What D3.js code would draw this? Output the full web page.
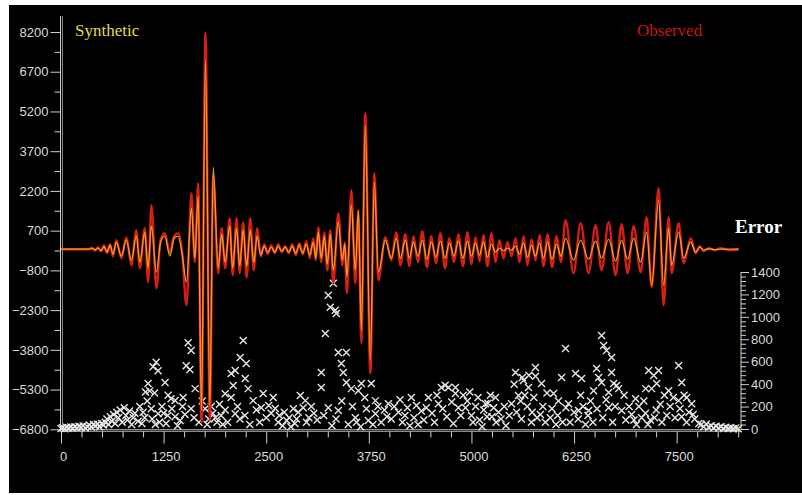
<!DOCTYPE html>
<html>
<head>
<meta charset="utf-8">
<script src="https://cdn.jsdelivr.net/npm/d3@7"></script>
<style>
  body { margin: 0; background: #fff; }
  svg { display: block; }
</style>
</head>
<body>
<svg id="chart" width="802" height="495"></svg>
<script>
// turning points of the traces (time samples)
const times = [0,329,378,415,451,488,524,561,598,634,
  674,735,796,857,918,960,1021,1061,1101,1162,
  1213,1265,1326,1378,1427,1476,1528,1589,1630,1671,
  1711,1760,1813,1854,1915,1957,2000,2055,2091,2138,
  2177,2219,2262,2305,2348,2390,2433,2476,2518,2561,
  2604,2646,2689,2732,2774,2817,2860,2902,2945,2988,
  3030,3073,3104,3134,3171,3207,3244,3280,3317,3378,
  3427,3457,3482,3537,3585,3622,3659,3707,3768,3817,
  3866,3951,4024,4085,4134,4195,4244,4293,4348,4402,
  4457,4512,4567,4622,4677,4732,4787,4841,4896,4951,
  5000,5049,5098,5146,5195,5244,5293,5341,5390,5439,
  5488,5537,5585,5634,5683,5732,5780,5829,5878,5927,
  5982,6037,6091,6146,6244,6329,6427,6512,6585,6671,
  6756,6829,6902,6976,7061,7134,7195,7280,7341,7402,
  7439,7524,7585,7671,7732,7781,7829,7890,7963,8037,
  8134,8256];

const observed = [0,0,57,-57,76,-76,151,-151,189,-265,
  340,-340,454,-605,718,-718,794,-1247,1663,-1474,
  340,605,-151,491,605,-113,-2117,2117,-491,2495,
  -6539,8165,-6464,2797,-907,794,-718,1172,-983,1172,
  -907,1021,-1058,1172,-794,794,-265,189,-189,151,
  -151,189,-113,113,-151,189,-227,227,-189,302,
  -340,416,-416,832,-491,643,-794,718,-1285,1361,
  -605,265,-1663,2230,-1285,1474,-3553,5141,-4687,2873,
  -1172,454,-416,643,-605,567,-643,491,-491,680,
  -680,491,-529,605,-718,416,-491,567,-643,643,
  -567,454,-454,529,-643,605,-491,340,-340,265,
  -265,416,-491,491,-605,378,-416,529,-643,567,
  -680,491,-491,1096,-907,983,-907,907,-794,1021,
  -983,945,-907,869,-869,1210,-1436,2306,-2117,1210,
  -907,983,-529,416,-151,113,-76,38,-38,38,
  -38,0];

const synthetic = [0,0,19,-19,38,-57,95,-95,151,-189,
  265,-265,340,-416,491,-491,643,-718,869,-869,
  265,491,-265,416,491,-189,-1247,1550,-340,2003,
  -6086,7144,-5897,3100,-718,567,-491,869,-718,794,
  -643,718,-643,718,-491,491,-227,113,-113,76,
  -113,113,-76,76,-113,113,-151,151,-151,189,
  -227,265,-340,643,-340,491,-567,567,-794,1021,
  -416,189,-1021,1663,-794,1474,-3062,4687,-4196,2533,
  -869,340,-340,416,-340,340,-340,265,-265,340,
  -378,265,-302,302,-340,227,-265,302,-340,302,
  -265,227,-227,265,-302,189,-113,38,-57,38,
  -38,113,-189,227,-302,151,-265,227,-340,265,
  -378,189,-265,416,-416,340,-378,302,-340,378,
  -454,340,-378,416,-491,643,-1361,1852,-1361,794,
  -605,643,-340,265,-113,76,-38,19,-19,0,
  0,0];

// [time, error]
const errorPoints = [
  [0,5],[20,12],[45,3],[70,15],[95,8],[120,18],[145,6],[170,20],[195,10],[220,25],
  [245,14],[270,30],[295,9],[320,22],[345,35],[370,18],[395,40],[420,28],[445,45],[470,20],
  [495,50],[520,35],[540,60],[560,90],[580,40],[600,110],[620,70],[640,130],[660,50],[680,150],
  [700,100],[720,170],[745,60],[770,190],[790,120],[810,80],[835,160],[860,40],[880,100],[900,140],
  [940,70],[985,50],[1020,100],[1030,330],[1080,340],[1140,320],[1061,405],[1159,595],[1183,520],[1122,555],
  [1268,415],[1305,300],[1340,270],[1390,255],[1488,280],[1549,770],[1585,700],[1525,565],[1570,530],[1634,360],
  [1390,110],[1450,75],[1510,130],[1183,135],[1250,140],[1300,120],[1585,180],[1756,180],[1800,90],[1850,140],
  [1900,60],[1950,120],[2000,170],[2000,315],[1100,180],[1200,60],[1150,40],
  [960,200],[1000,150],[1050,250],[1110,90],[1230,200],[1280,50],[1350,180],[1420,30],[1480,200],[1620,100],
  [1680,60],[1720,250],[1780,40],[1830,200],[1880,100],[1930,220],[1970,40],
  [2220,789],[2183,637],[2256,584],[2122,521],[2073,494],[2244,450],[2098,387],[2280,360],[2073,280],[2341,253],
  [2463,316],[2585,280],[2610,182],[2439,190],[2500,100],[2560,140],[2122,137],[2180,90],[2240,120],[2646,60],
  [2700,30],[2750,75],[2800,20],[2850,50],[2915,298],[2976,253],[2890,150],[2950,190],[3020,100],[3080,140],
  [3171,503],[3171,370],[3220,852],[3256,1192],[3317,1300],[3280,1085],[3341,1058],[3354,1031],[3378,682],[3476,682],
  [3415,584],[3439,503],[3476,414],[3537,360],[3659,405],[3780,405],[3622,342],[3700,280],[3830,253],[3256,190],
  [3378,164],[3585,100],[3744,75],[3830,137],[3900,60],[3970,110],[4024,90],[3988,226],[3300,30],[3500,40],[3650,20],
  [2030,60],[2150,200],[2300,40],[2380,170],[2420,60],[2530,210],[2660,120],[2720,150],[2780,100],[2830,180],
  [2870,90],[2990,60],[3050,200],[3120,80],[3200,120],[3350,90],[3420,250],[3550,200],[3600,60],[3720,180],
  [3800,40],[3860,200],[3940,170],
  [4268,280],[4110,150],[4160,60],[4220,190],[4300,100],[4350,40],[4476,280],[4598,226],[4634,370],[4720,370],
  [4805,370],[4680,390],[4805,316],[4841,190],[4927,190],[4950,250],[5000,120],[5050,200],[5100,80],[5150,170],
  [5200,230],[5250,110],[5300,60],[5330,150],[5293,280],[5171,226],[5537,503],[5620,460],[5700,480],[5780,470],
  [5780,548],[5634,432],[5695,370],[5854,405],[5573,298],[5488,226],[5550,150],[5610,90],[5680,200],[5730,60],
  [6146,718],[6098,459],[6000,316],[6060,250],[6150,190],[5840,130],[5900,60],[5960,100],[6030,40],
  [4060,200],[4130,260],[4190,120],[4250,30],[4330,210],[4390,160],[4420,80],[4450,190],[4520,140],[4550,60],
  [4580,300],[4650,180],[4700,110],[4760,240],[4780,50],[4870,120],[4900,300],[4980,330],[5020,60],[5080,280],
  [5130,20],[5190,110],[5230,300],[5270,190],[5360,90],[5400,200],[5420,30],[5460,120],[5520,400],[5600,250],
  [5650,300],[5740,150],[5760,280],[5800,100],[5870,200],[5920,320],[5980,180],[6050,120],[6110,60],
  [6585,834],[6610,745],[6646,700],[6707,637],[6268,494],[6341,450],[6524,539],[6549,459],[6585,414],[6707,503],
  [6732,405],[6768,387],[6488,342],[6671,325],[6793,360],[6183,226],[6250,150],[6300,90],[6360,200],[6420,120],
  [6480,60],[6305,164],[6427,164],[6671,190],[6830,164],[6880,80],[6950,130],[7010,40],[7073,100],[7000,270],
  [7158,521],[7280,521],[7220,477],[7122,360],[7195,360],[7256,405],[7524,566],[7561,414],[7402,342],[7460,280],
  [7524,253],[7622,280],[7683,226],[7120,140],[7180,80],[7250,170],[7320,60],[7380,120],[7561,110],[7620,60],
  [7700,130],[7770,50],
  [6200,60],[6330,300],[6390,40],[6450,250],[6530,180],[6600,100],[6640,260],[6720,60],[6750,200],[6860,300],
  [6920,200],[6980,80],[7040,200],[7100,250],[7150,40],[7230,100],[7300,220],[7350,300],[7420,200],[7480,100],
  [7540,180],[7590,300],[7650,150],[7720,90],
  [7800,40],[7830,20],[7860,45],[7890,15],[7920,30],[7950,10],[7980,25],[8010,8],
  [8040,20],[8070,5],[8100,15],[8130,5],[8160,12],[8190,3],[8220,10],[8250,2]
];

const ampTicks = [-6800,-5300,-3800,-2300,-800,700,2200,3700,5200,6700,8200];
const timeTicks = [0,1250,2500,3750,5000,6250,7500];
const errorTicks = [0,200,400,600,800,1000,1200,1400];

const svg = d3.select('#chart');
const axisColor = '#cfcfcf';
const labelColor = '#dadada';
const labelFont = '"Liberation Sans", Arial, sans-serif';

svg.append('rect')
  .attr('x', 9).attr('y', 5)
  .attr('width', 793).attr('height', 488)
  .attr('fill', '#000');

const x = d3.scaleLinear().domain([0, 8280]).range([61, 740.7]);
const y = d3.scaleLinear().domain([-6800, 8200]).range([429.3, 32]);
const e = d3.scaleLinear().domain([0, 1400]).range([429, 272]);

function styleAxis(g) {
  g.select('.domain').remove();
  g.selectAll('line').attr('stroke', axisColor).attr('stroke-width', 1);
  g.selectAll('text')
    .attr('fill', labelColor)
    .attr('font-family', labelFont)
    .attr('font-size', 13);
}

// left amplitude axis
svg.append('line')
  .attr('x1', 60.5).attr('x2', 60.5)
  .attr('y1', y(8800)).attr('y2', 431)
  .attr('stroke', axisColor);
svg.append('line')
  .attr('x1', 62.5).attr('x2', 62.5)
  .attr('y1', y(8800)).attr('y2', 431)
  .attr('stroke', '#8a8a8a');

svg.append('g')
  .attr('transform', 'translate(60.5,0)')
  .call(d3.axisLeft(y).tickValues(ampTicks.slice(0, -1).map(v => v + 750)).tickSize(6).tickFormat(''))
  .call(styleAxis);
svg.append('g')
  .attr('transform', 'translate(60.5,0)')
  .call(d3.axisLeft(y).tickValues(ampTicks).tickSize(10).tickPadding(2).tickFormat(d3.format('d')))
  .call(styleAxis);

// bottom time axis
svg.append('line')
  .attr('x1', 60).attr('x2', x(8280))
  .attr('y1', 429.8).attr('y2', 429.8)
  .attr('stroke', axisColor);
svg.append('line')
  .attr('x1', 60).attr('x2', x(8280))
  .attr('y1', 431.5).attr('y2', 431.5)
  .attr('stroke', '#8a8a8a');

svg.append('g')
  .attr('transform', 'translate(0,431.5)')
  .call(d3.axisBottom(x).tickValues(d3.range(0, 8251, 250).filter(v => v % 1250)).tickSize(6).tickFormat(''))
  .call(styleAxis);
svg.append('g')
  .attr('transform', 'translate(0,431.5)')
  .call(d3.axisBottom(x).tickValues(timeTicks).tickSize(12).tickPadding(8).tickFormat(d3.format('d')))
  .call(styleAxis)
  .call(g => g.selectAll('text').attr('dx', 2));

// right error axis
svg.append('line')
  .attr('x1', 741).attr('x2', 741)
  .attr('y1', e(1400)).attr('y2', e(0))
  .attr('stroke', axisColor);
svg.append('g')
  .attr('transform', 'translate(741,0)')
  .call(d3.axisRight(e).tickValues(d3.range(0, 1401, 40).filter(v => v % 200)).tickSize(5).tickFormat(''))
  .call(styleAxis);
svg.append('g')
  .attr('transform', 'translate(741,0)')
  .call(d3.axisRight(e).tickValues(errorTicks).tickSize(8).tickPadding(2).tickFormat(d3.format('d')))
  .call(styleAxis);

// error crosses
svg.append('g')
  .attr('stroke', '#e6e6e6')
  .attr('stroke-width', 1.4)
  .attr('fill', 'none')
  .selectAll('path')
  .data(errorPoints)
  .join('path')
  .attr('transform', d => `translate(${x(d[0])},${e(d[1])})`)
  .attr('d', 'M-3.5,-3.5L3.5,3.5M-3.5,3.5L3.5,-3.5');

// traces
const trace = vals => d3.line()
  .x((d, i) => x(times[i]))
  .y(d => y(d))
  .curve(d3.curveMonotoneX)(vals);

svg.append('path')
  .attr('d', trace(observed))
  .attr('fill', 'none')
  .attr('stroke', '#d81e14')
  .attr('stroke-width', 2.4)
  .attr('stroke-linejoin', 'round');

svg.append('path')
  .attr('d', trace(synthetic))
  .attr('fill', 'none')
  .attr('stroke', '#f6b52c')
  .attr('stroke-opacity', 0.85)
  .attr('stroke-width', 1.3)
  .attr('stroke-linejoin', 'round');

// legend and axis title
const serif = '"Liberation Serif", "Times New Roman", serif';
svg.append('text')
  .attr('x', 75).attr('y', 36)
  .attr('font-family', serif).attr('font-size', 17)
  .attr('fill', '#e2dc4e')
  .text('Synthetic');
svg.append('text')
  .attr('x', 637).attr('y', 36)
  .attr('font-family', serif).attr('font-size', 17)
  .attr('fill', '#c8161a')
  .text('Observed');
svg.append('text')
  .attr('x', 735).attr('y', 233)
  .attr('font-family', serif).attr('font-size', 19)
  .attr('font-weight', 'bold')
  .attr('fill', '#fff')
  .text('Error');
</script>
</body>
</html>
